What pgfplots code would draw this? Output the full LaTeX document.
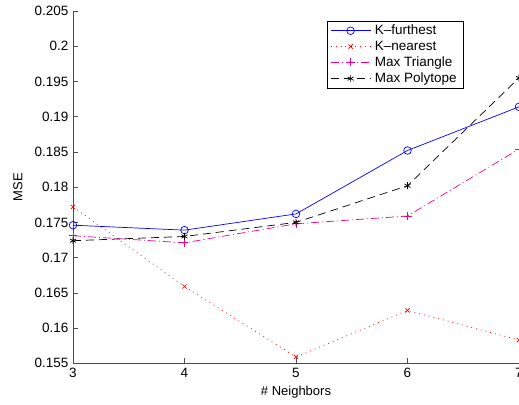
\documentclass[border=0pt]{standalone}
\usepackage{fontspec}
\setmainfont{Liberation Sans}
\usepackage{pgfplots}
\pgfplotsset{compat=1.18}
\begin{document}
\fontsize{13.5}{16}\selectfont
\begin{tikzpicture}
\begin{axis}[
  at={(0pt,0pt)}, anchor=south west,
  scale only axis,
  width=446pt, height=352.3pt,
  xmin=3, xmax=7, ymin=0.155, ymax=0.205,
  xtick={3,4,5,6,7},
  ytick={0.155,0.16,0.165,0.17,0.175,0.18,0.185,0.19,0.195,0.2,0.205},
  axis x line*=bottom, axis y line*=left,
  axis line style={black!70, line width=0.8pt},
  tick style={black!70, line width=0.6pt},
  tick align=inside, major tick length=5pt,
  /pgf/number format/assume math mode=true,
  yticklabel style={/pgf/number format/fixed, /pgf/number format/precision=3},
  ticklabel style={font=\fontsize{13.5}{16}\selectfont},
  xlabel={\# Neighbors}, ylabel={MSE},
  label style={font=\fontsize{13}{15}\selectfont},
  ylabel style={at={(axis description cs:0,0.5)}, yshift=55pt, anchor=center},
  xlabel style={at={(axis description cs:0.5,0)}, yshift=-29pt, anchor=center},
  legend style={at={(254pt,342.3pt)}, anchor=north west, draw=black, line width=0.7pt,
    font=\fontsize{13.5}{16}\selectfont, inner xsep=3pt, inner ysep=3.5pt, row sep=4.3pt,
    cells={anchor=west}, nodes={inner xsep=4pt, inner ysep=0pt}},
  legend cell align=left,
  legend image code/.code={\draw[mark repeat=2,mark phase=2,#1] plot coordinates {(0cm,0cm) (0.7cm,0cm) (1.4cm,0cm)};},
]
\addplot[blue, line width=0.7pt, mark=o, mark size=3.8pt] coordinates {
 (3,0.1746) (4,0.1739) (5,0.1762) (6,0.1852) (7,0.1914)};
\addlegendentry{K–furthest}
\addplot[red, line width=0.7pt, dash pattern=on 0.9pt off 4pt, mark=x, mark size=3pt, mark options={solid}] coordinates {
 (3,0.1772) (4,0.1659) (5,0.1559) (6,0.1625) (7,0.1583)};
\addlegendentry{K–nearest}
\addplot[magenta, line width=0.7pt, dash pattern=on 8pt off 3pt on 1pt off 3pt, mark=+, mark size=4pt, mark options={solid}] coordinates {
 (3,0.1731) (4,0.1721) (5,0.1748) (6,0.1759) (7,0.1854)};
\addlegendentry{Max Triangle}
\addplot[black, line width=0.7pt, dash pattern=on 8pt off 5pt, mark=asterisk, mark size=3.5pt, mark options={solid}] coordinates {
 (3,0.1724) (4,0.1730) (5,0.1750) (6,0.1802) (7,0.1955)};
\addlegendentry{Max Polytope}
\end{axis}
\pgfresetboundingbox
\useasboundingbox (-73pt,-40.7pt) rectangle (446pt,363.3pt);
\end{tikzpicture}
\end{document}
